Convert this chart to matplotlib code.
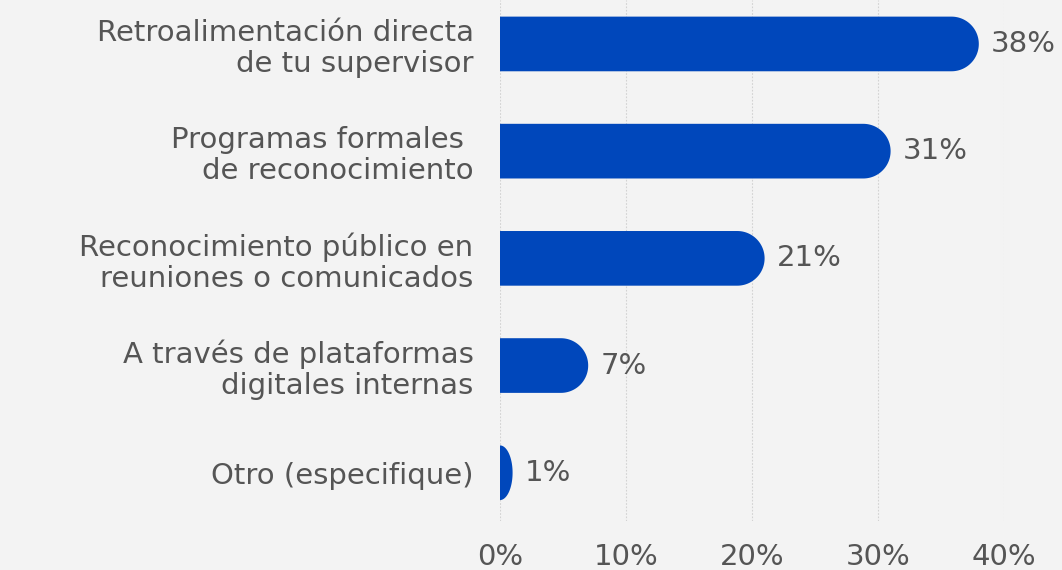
import matplotlib.pyplot as plt
import numpy as np
from matplotlib.path import Path
from matplotlib.patches import PathPatch

categorias = [
    "Retroalimentación directa\nde tu supervisor",
    "Programas formales \nde reconocimiento",
    "Reconocimiento público en\nreuniones o comunicados",
    "A través de plataformas\ndigitales internas",
    "Otro (especifique)",
]
valores = [38, 31, 21, 7, 1]
ticks = [0, 10, 20, 30, 40]
etiquetas_ticks = ["0%", "10%", "20%", "30%", "40%"]

azul = "#0047bb"
gris_texto = "#555555"
fondo = "#f3f3f3"
alto_barra = 0.51

fig = plt.figure(figsize=(10.62, 5.70), dpi=100)
fig.patch.set_facecolor(fondo)
ax = fig.add_axes([0.4708, 0.086, 0.4746, 0.914])
ax.set_facecolor("none")
ax.set_xlim(0, 40)
ax.set_ylim(4.45, -0.41)

# escala px por unidad en cada eje, para que la punta redondeada sea circular
px_x = ax.get_window_extent().width / 40.0
px_y = ax.get_window_extent().height / (4.45 + 0.41)


def barra_redondeada(ax, y, v, h):
    r_px = h * px_y / 2
    r_x = r_px / px_x
    a = min(r_x, v)
    x0 = v - a
    t = np.linspace(-np.pi / 2, np.pi / 2, 60)
    arco = np.column_stack([x0 + a * np.cos(t), y - (h / 2) * np.sin(t)])
    verts = [(0, y + h / 2), (x0, y + h / 2)] + [tuple(p) for p in arco] + [(0, y - h / 2), (0, y + h / 2)]
    codes = [Path.MOVETO] + [Path.LINETO] * (len(verts) - 2) + [Path.CLOSEPOLY]
    ax.add_patch(PathPatch(Path(verts, codes), facecolor=azul, edgecolor="none", zorder=3))


for i, v in enumerate(valores):
    barra_redondeada(ax, i, v, alto_barra)
    ax.text(v + 0.95, i, f"{v}%", va="center", ha="left", fontsize=21,
            color=gris_texto, zorder=4)

for t in ticks:
    ax.axvline(t, color="#d2d2d2", lw=0.8, ls=(0, (1.5, 1.5)), zorder=1)

ax.set_yticks(range(len(categorias)))
ax.set_yticklabels(categorias, fontsize=21, color=gris_texto, linespacing=1.12)
ax.set_xticks(ticks)
ax.set_xticklabels(etiquetas_ticks, fontsize=21, color=gris_texto)
ax.tick_params(axis="y", length=0, pad=19)
ax.tick_params(axis="x", length=0, pad=16)
for lado in ax.spines.values():
    lado.set_visible(False)

fig.savefig("out.png", dpi=100, facecolor=fondo)
